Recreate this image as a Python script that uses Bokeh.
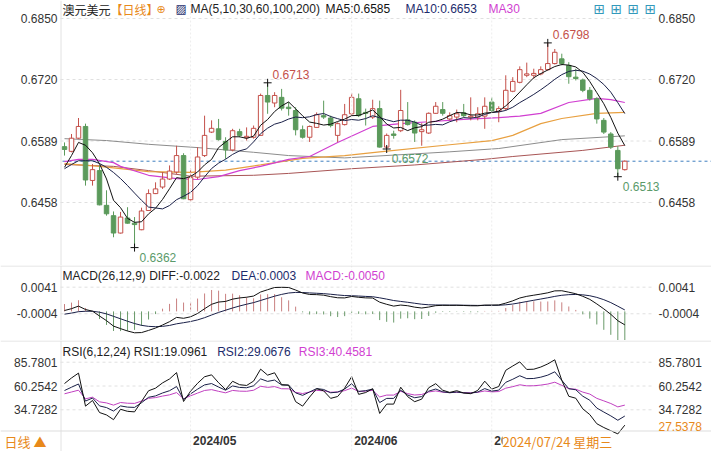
import numpy as np
from bokeh.plotting import figure
from bokeh.layouts import column
from bokeh.models import Range1d, Label, ColumnDataSource, Span
from bokeh.embed import file_html
from bokeh.resources import INLINE

# ---------------- data ----------------
opens = [0.6577, 0.6567, 0.6595, 0.6620, 0.6505, 0.6526, 0.6452, 0.6430, 0.6393, 0.6425,
         0.6414, 0.6400, 0.6441, 0.6477, 0.6491, 0.6508, 0.6523, 0.6558, 0.6464, 0.6512,
         0.6558, 0.6608, 0.6615, 0.6588, 0.6570, 0.6609, 0.6596, 0.6597, 0.6601, 0.6686,
         0.6670, 0.6682, 0.6661, 0.6654, 0.6613, 0.6597, 0.6618, 0.6643, 0.6638, 0.6601,
         0.6624, 0.6647, 0.6679, 0.6650, 0.6640, 0.6658, 0.6576, 0.6604, 0.6611, 0.6634,
         0.6629, 0.6609, 0.6606, 0.6648, 0.6656, 0.6636, 0.6640, 0.6649, 0.6640, 0.6640,
         0.6642, 0.6672, 0.6652, 0.6658, 0.6695, 0.6714, 0.6729, 0.6729, 0.6732, 0.6741,
         0.6754, 0.6764, 0.6750, 0.6725, 0.6719, 0.6697, 0.6679, 0.6633, 0.6604, 0.6569,
         0.6528]
highs = [0.6586, 0.6604, 0.6638, 0.6626, 0.6540, 0.6537, 0.6484, 0.6439, 0.6438, 0.6448,
         0.6427, 0.6447, 0.6486, 0.6501, 0.6523, 0.6537, 0.6579, 0.6563, 0.6530, 0.6576,
         0.6643, 0.6633, 0.6636, 0.6597, 0.6615, 0.6615, 0.6618, 0.6622, 0.6690, 0.6713,
         0.6693, 0.6700, 0.6672, 0.6661, 0.6622, 0.6622, 0.6650, 0.6675, 0.6643, 0.6629,
         0.6668, 0.6691, 0.6690, 0.6658, 0.6677, 0.6675, 0.6605, 0.6611, 0.6698, 0.6672,
         0.6633, 0.6627, 0.6650, 0.6672, 0.6672, 0.6650, 0.6656, 0.6668, 0.6682, 0.6661,
         0.6682, 0.6682, 0.6663, 0.6729, 0.6725, 0.6748, 0.6756, 0.6743, 0.6748, 0.6798,
         0.6785, 0.6775, 0.6757, 0.6743, 0.6722, 0.6704, 0.6682, 0.6638, 0.6608, 0.6578,
         0.6548]
lows = [0.6558, 0.6565, 0.6593, 0.6494, 0.6494, 0.6452, 0.6430, 0.6384, 0.6392, 0.6413,
        0.6362, 0.6399, 0.6440, 0.6476, 0.6487, 0.6506, 0.6519, 0.6465, 0.6459, 0.6508,
        0.6555, 0.6606, 0.6590, 0.6551, 0.6567, 0.6597, 0.6590, 0.6594, 0.6600, 0.6647,
        0.6661, 0.6654, 0.6643, 0.6601, 0.6594, 0.6587, 0.6617, 0.6636, 0.6618, 0.6587,
        0.6622, 0.6643, 0.6640, 0.6622, 0.6636, 0.6575, 0.6572, 0.6594, 0.6608, 0.6622,
        0.6587, 0.6579, 0.6604, 0.6647, 0.6643, 0.6633, 0.6629, 0.6640, 0.6633, 0.6633,
        0.6615, 0.6650, 0.6629, 0.6654, 0.6693, 0.6712, 0.6725, 0.6722, 0.6729, 0.6739,
        0.6752, 0.6750, 0.6711, 0.6718, 0.6693, 0.6675, 0.6626, 0.6604, 0.6572, 0.6513,
        0.6526]
closes = [0.6571, 0.6595, 0.6620, 0.6506, 0.6528, 0.6453, 0.6434, 0.6393, 0.6427, 0.6414,
          0.6411, 0.6440, 0.6477, 0.6487, 0.6508, 0.6525, 0.6558, 0.6466, 0.6511, 0.6555,
          0.6601, 0.6616, 0.6592, 0.6570, 0.6611, 0.6601, 0.6599, 0.6616, 0.6686, 0.6672,
          0.6686, 0.6659, 0.6658, 0.6613, 0.6597, 0.6620, 0.6645, 0.6640, 0.6622, 0.6626,
          0.6645, 0.6682, 0.6643, 0.6648, 0.6658, 0.6576, 0.6601, 0.6601, 0.6654, 0.6624,
          0.6606, 0.6613, 0.6648, 0.6663, 0.6648, 0.6643, 0.6647, 0.6643, 0.6642, 0.6647,
          0.6663, 0.6654, 0.6658, 0.6697, 0.6716, 0.6741, 0.6732, 0.6733, 0.6741, 0.6754,
          0.6778, 0.6754, 0.6726, 0.6722, 0.6697, 0.6679, 0.6636, 0.6608, 0.6576, 0.6530,
          0.6546]

# first values of the short moving averages (their history is off the picture)
ma5_head = [0.6533, 0.6558, 0.6586, 0.6580]
ma10_head = [0.6530, 0.6539, 0.6547, 0.6547, 0.6547, 0.6541, 0.6533, 0.6522, 0.6509]

# long moving averages
ma30_idx = [0, 2, 4, 7, 8, 12, 16, 19, 22, 25, 28, 32, 35, 39, 44, 48, 52, 57, 62, 65, 68, 72, 76, 78, 80]
ma30_val = [0.6545, 0.6550, 0.6550, 0.6543, 0.6535, 0.6516, 0.6509, 0.6507, 0.6513, 0.6526,
            0.6535, 0.6550, 0.6556, 0.6586, 0.6620, 0.6626, 0.6630, 0.6635, 0.6639, 0.6642,
            0.6648, 0.6671, 0.6680, 0.6677, 0.6671]
ma60_idx = [0, 5, 12, 18, 23, 28, 34, 40, 45, 55, 61, 64, 68, 71, 76, 80]
ma60_val = [0.6541, 0.6535, 0.6524, 0.6522, 0.6527, 0.6538, 0.6552, 0.6558, 0.6566, 0.6581,
            0.6590, 0.6601, 0.6626, 0.6637, 0.6648, 0.6650]
ma100_idx = [0, 6, 12, 19, 27, 32, 40, 47, 55, 62, 71, 80]
ma100_val = [0.6594, 0.6590, 0.6582, 0.6575, 0.6565, 0.6558, 0.6553, 0.6559, 0.6566, 0.6573,
             0.6592, 0.6600]
ma200_idx = [0, 7, 12, 18, 27, 32, 41, 50, 60, 64, 74, 80]
ma200_val = [0.6539, 0.6535, 0.6526, 0.6514, 0.6516, 0.6520, 0.6530, 0.6538, 0.6550, 0.6556,
             0.6569, 0.6580]

price_ticks = [0.6458, 0.6589, 0.6720, 0.6850]
macd_ticks = [-0.0004, 0.0041]
rsi_ticks = [34.7282, 60.2542, 85.7801]
month_idx = [18, 41, 61]
month_labels = ["2024/05", "2024/06", "2024/07"]
high_marks = [29, 69]
low_marks = [10, 46, 79]

# indicator states at the left edge
macd_seed = (0.6552, 0.6552, -0.000625)   # ema12, ema26, dea before first bar
rsi_start = [62.9, 55.4, 51.9]           # RSI6, RSI12, RSI24 at first bar
rsi_abs_seed = 0.0025

# ---------------- derived series ----------------
n = len(closes)
idx = list(range(n))
cl = np.array(closes)
ma5 = list(ma5_head) + [float(cl[i - 4:i + 1].mean()) for i in range(4, n)]
ma10 = list(ma10_head) + [float(cl[i - 9:i + 1].mean()) for i in range(9, n)]

e12, e26, dea = macd_seed
diff_l, dea_l, hist_l = [], [], []
for c in closes:
    e12 += (c - e12) * 2 / 13
    e26 += (c - e26) * 2 / 27
    d = e12 - e26
    dea += (d - dea) * 0.2
    diff_l.append(d)
    dea_l.append(dea)
    hist_l.append(2 * (d - dea))

rsi_lines = []
for N, r0 in zip((6, 12, 24), rsi_start):
    ua = r0 / 100 * rsi_abs_seed
    aa = rsi_abs_seed
    vals = [r0]
    for i in range(1, n):
        ch = closes[i] - closes[i - 1]
        ua = (max(ch, 0) + (N - 1) * ua) / N
        aa = (abs(ch) + (N - 1) * aa) / N
        vals.append(100 * ua / aa)
    rsi_lines.append(vals)

# ---------------- layout helpers (pixels of the 711x451 picture) ----------------
W = 711


def sx(px):
    return (px - 64) / 7.004


def ya(py):
    return 0.68883 - 0.000213 * py


def yb(py):
    return (310.9 - py) / 5911


def yc(py):
    return 85.7801 - (py - 361.7) / 0.9325


XR = Range1d(sx(0), sx(W))
FONT = "Liberation Sans"
CJK = "Noto Sans CJK SC"
RED = "#c4504a"
GREEN = "#5b9a5b"
NAVY = "#1c2c6c"
MA10C = "#1a2048"
MAG = "#d13fd1"
ORANGE = "#e8891a"


def lab(p, x, y, text, color, font=FONT, size="12px", bold=False, bg=None, align="left"):
    l = Label(x=x, y=y, text=text, text_color=color, text_font=font, text_font_size=size,
              text_baseline="middle", text_align=align,
              text_font_style="bold" if bold else "normal")
    if bg:
        l.background_fill_color = bg
    p.add_layout(l)


def make_fig(h, yr, ticks):
    p = figure(width=W, height=h, x_range=XR, y_range=yr, output_backend="svg",
               toolbar_location=None, x_axis_location=None, y_axis_location=None,
               min_border=0, outline_line_color=None,
               background_fill_color="white", border_fill_color="white")
    p.grid.visible = False
    p.segment(x0=[sx(60)] * len(ticks), x1=[sx(653)] * len(ticks), y0=ticks, y1=ticks,
              line_color="#e0e0e0", line_dash="3 3", line_width=1)
    for m in month_idx:
        p.add_layout(Span(location=m, dimension="height", line_color="#ededed",
                          line_dash="2 2", line_width=1))
    p.add_layout(Span(location=sx(60.5), dimension="height", line_color="#e2e2e2", line_width=1))
    for t in ticks:
        lab(p, sx(57), t, "%.4f" % t, "#333333", align="right")
        lab(p, sx(658), t, "%.4f" % t, "#333333")
    return p


# ---------------- main price panel ----------------
pA = make_fig(265, Range1d(ya(265), ya(0)), price_ticks)

up = [c >= o for o, c in zip(opens, closes)]
src = ColumnDataSource(dict(
    x=idx, high=highs, low=lows,
    top=[max(o, c) for o, c in zip(opens, closes)],
    bottom=[min(o, c) for o, c in zip(opens, closes)],
    line=[RED if u else GREEN for u in up],
    fill=["white" if u else GREEN for u in up]))

pA.segment(x0=[sx(62)], x1=[sx(711)], y0=[closes[-1]], y1=[closes[-1]],
           line_color="#3f7fbf", line_dash="3 3", line_width=1)
pA.line(ma200_idx, ma200_val, line_color="#a85555", line_width=1)
pA.line(ma100_idx, ma100_val, line_color="#8c8c8c", line_width=1)
pA.line(ma60_idx, ma60_val, line_color="#e8a040", line_width=1.2)
pA.line(ma30_idx, ma30_val, line_color=MAG, line_width=1.2)
pA.segment(x0="x", y0="high", x1="x", y1="low", line_color="line", line_width=1, source=src)
pA.vbar(x="x", width=0.64, top="top", bottom="bottom", fill_color="fill",
        line_color="line", line_width=1, source=src)
pA.line(idx, ma10, line_color=MA10C, line_width=1)
pA.line(idx, ma5, line_color="#111111", line_width=1)

pA.scatter(high_marks + low_marks,
           [highs[i] for i in high_marks] + [lows[i] for i in low_marks],
           marker="cross", size=8, line_color="#111111", line_width=1)
dx = 5 / 7.004
for i in high_marks:
    lab(pA, i + dx, highs[i] + 8 * 0.000213, f"{highs[i]:.4f}", RED)
for i in low_marks:
    lab(pA, i + dx, lows[i] - 9.5 * 0.000213, f"{lows[i]:.4f}", "#5a9a6a")

ty = ya(8.5)
lab(pA, sx(62), ty, "澳元美元", "#222222", font=CJK)
lab(pA, sx(110), ty, "【日线】", ORANGE, font=CJK)
lab(pA, sx(156), ty, "⊕", ORANGE, font="DejaVu Sans", size="11px")
lab(pA, sx(175), ty, "▨", NAVY, font="DejaVu Sans", size="12px")
lab(pA, sx(190), ty, "MA(5,10,30,60,100,200)", "#222222")
lab(pA, sx(325), ty, "MA5:0.6585", "#111111")
lab(pA, sx(405), ty, "MA10:0.6653", NAVY)
lab(pA, sx(488), ty, "MA30", MAG)
for xx in (593, 610, 627, 644):
    lab(pA, sx(xx), ty, "⊞", "#3399bb", font="DejaVu Sans", size="14px")

# ---------------- MACD panel ----------------
pB = make_fig(75, Range1d(yb(340), yb(265)), macd_ticks)
pB.add_layout(Span(location=yb(265.5), dimension="width", line_color="#dddddd", line_width=1))
hsrc = ColumnDataSource(dict(x=idx, h=hist_l, z=[0.0] * n,
                             c=["#c98080" if v >= 0 else "#6a9a6a" for v in hist_l]))
pB.segment(x0="x", y0="z", x1="x", y1="h", line_color="c", line_width=1, source=hsrc)
pB.line(idx, dea_l, line_color=MA10C, line_width=1)
pB.line(idx, diff_l, line_color="#111111", line_width=1)
my = yb(275)
lab(pB, sx(62), my, "MACD(26,12,9) DIFF:-0.0022", "#222222")
lab(pB, sx(231), my, "DEA:0.0003", NAVY)
lab(pB, sx(305), my, "MACD:-0.0050", MAG)

# ---------------- RSI panel + date row ----------------
pC = make_fig(111, Range1d(yc(451), yc(340)), rsi_ticks)
pC.add_layout(Span(location=yc(340.5), dimension="width", line_color="#dddddd", line_width=1))
pC.add_layout(Span(location=yc(430.5), dimension="width", line_color="#dddddd", line_width=1))
pC.line(idx, rsi_lines[2], line_color="#c040c0", line_width=1)
pC.line(idx, rsi_lines[1], line_color=MA10C, line_width=1)
pC.line(idx, rsi_lines[0], line_color="#111111", line_width=1)
ry = yc(351.5)
lab(pC, sx(62), ry, "RSI(6,12,24) RSI1:19.0961", "#222222")
lab(pC, sx(216.7), ry, "RSI2:29.0676", NAVY)
lab(pC, sx(298.3), ry, "RSI3:40.4581", MAG)

dy = yc(440.5)
for mi, ml in zip(month_idx, month_labels):
    lab(pC, mi + 2.5 / 7.004, dy, ml, "#333333", bold=True)
lab(pC, sx(502), dy, "2024/07/24 星期三", ORANGE, font=CJK, size="13px", bg="white")
lab(pC, sx(658), yc(425.5), "27.5378", ORANGE)
lab(pC, sx(4), yc(440.5), "日线 ▲", ORANGE, font=CJK, size="13px")

layout = column(pA, pB, pC)
open("out.html", "w").write(file_html(layout, INLINE))
